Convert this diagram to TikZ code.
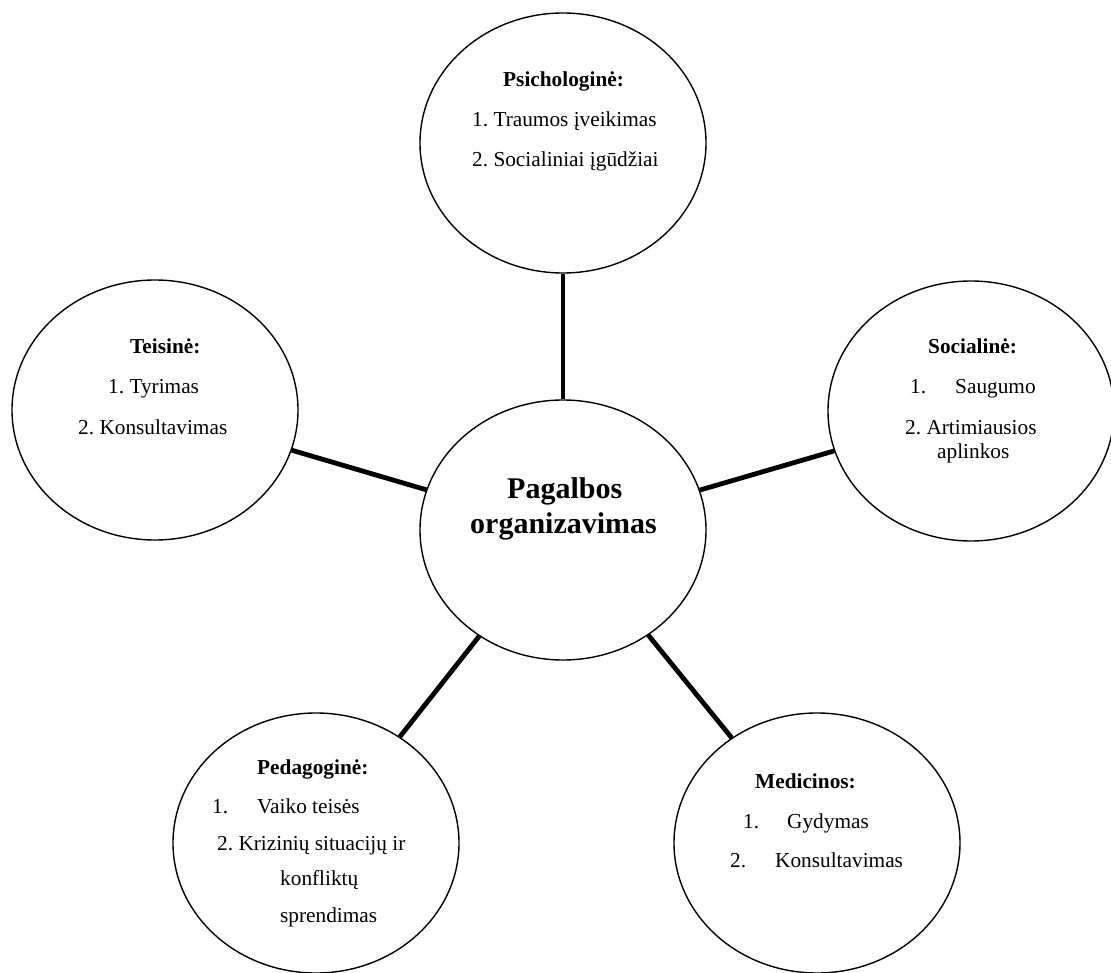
\documentclass[tikz,border=0pt]{standalone}
\usepackage{fontspec}
\setmainfont{Liberation Serif}
\usetikzlibrary{shapes.geometric}
\frenchspacing
\begin{document}
\begin{tikzpicture}[x=1pt,y=-1pt,
  bubble/.style={draw=black, line width=1.4pt, ellipse, minimum width=286pt, minimum height=260pt, inner sep=0pt},
  spoke/.style={draw=black, line width=4.8pt},
  txt/.style={anchor=base west, inner sep=0pt, font=\fontsize{21.3}{25}\selectfont},
  btxt/.style={txt, font=\fontsize{21.3}{25}\selectfont\bfseries},
  ctxt/.style={anchor=base west, inner sep=0pt, font=\fontsize{30}{36}\selectfont\bfseries}]
\useasboundingbox (0,0) rectangle (1111,973);
% ellipses
\node[bubble] (c) at (563,530) {};
\node[bubble] (top) at (563,143) {};
\node[bubble] (left) at (155,410) {};
\node[bubble] (right) at (971,411) {};
\node[bubble] (bl) at (316,843) {};
\node[bubble] (br) at (817,843) {};
% connectors
\draw[spoke] (c) -- (top);
\draw[spoke] (c) -- (left);
\draw[spoke] (c) -- (right);
\draw[spoke] (c) -- (bl);
\draw[spoke] (c) -- (br);
% centre
\node[ctxt] (c1) at (507,498) {Pagalbos};
\node[ctxt] (c2) at (470,533) {organizavimas};
% top
\node[btxt] (t0) at (503,87) {Psichologinė:};
\node[txt] (t1) at (472,127) {1. Traumos įveikimas};
\node[txt] (t2) at (472,167) {2. Socialiniai įgūdžiai};
% left
\node[btxt] (l0) at (130,354) {Teisinė:};
\node[txt] (l1) at (108,394) {1. Tyrimas};
\node[txt] (l2) at (78,434) {2. Konsultavimas};
% right
\node[btxt] (r0) at (928,354) {Socialinė:};
\node[txt] (r1a) at (910,394) {1.};
\node[txt] (r1b) at (955,394) {Saugumo};
\node[txt] (r2) at (905,434) {2. Artimiausios};
\node[txt] (r3) at (937,458) {aplinkos};
% bottom left
\node[btxt] (p0) at (257,774) {Pedagoginė:};
\node[txt] (p1a) at (212,813) {1.};
\node[txt] (p1b) at (257,813) {Vaiko teisės};
\node[txt] (p2) at (217,850) {2. Krizinių situacijų ir};
\node[txt] (p3) at (280,885) {konfliktų};
\node[txt] (p4) at (280,922) {sprendimas};
% bottom right
\node[btxt] (m0) at (755,788) {Medicinos:};
\node[txt] (m1a) at (743,828) {1.};
\node[txt] (m1b) at (787,828) {Gydymas};
\node[txt] (m2a) at (730,867) {2.};
\node[txt] (m2b) at (775,867) {Konsultavimas};
\end{tikzpicture}
\end{document}
